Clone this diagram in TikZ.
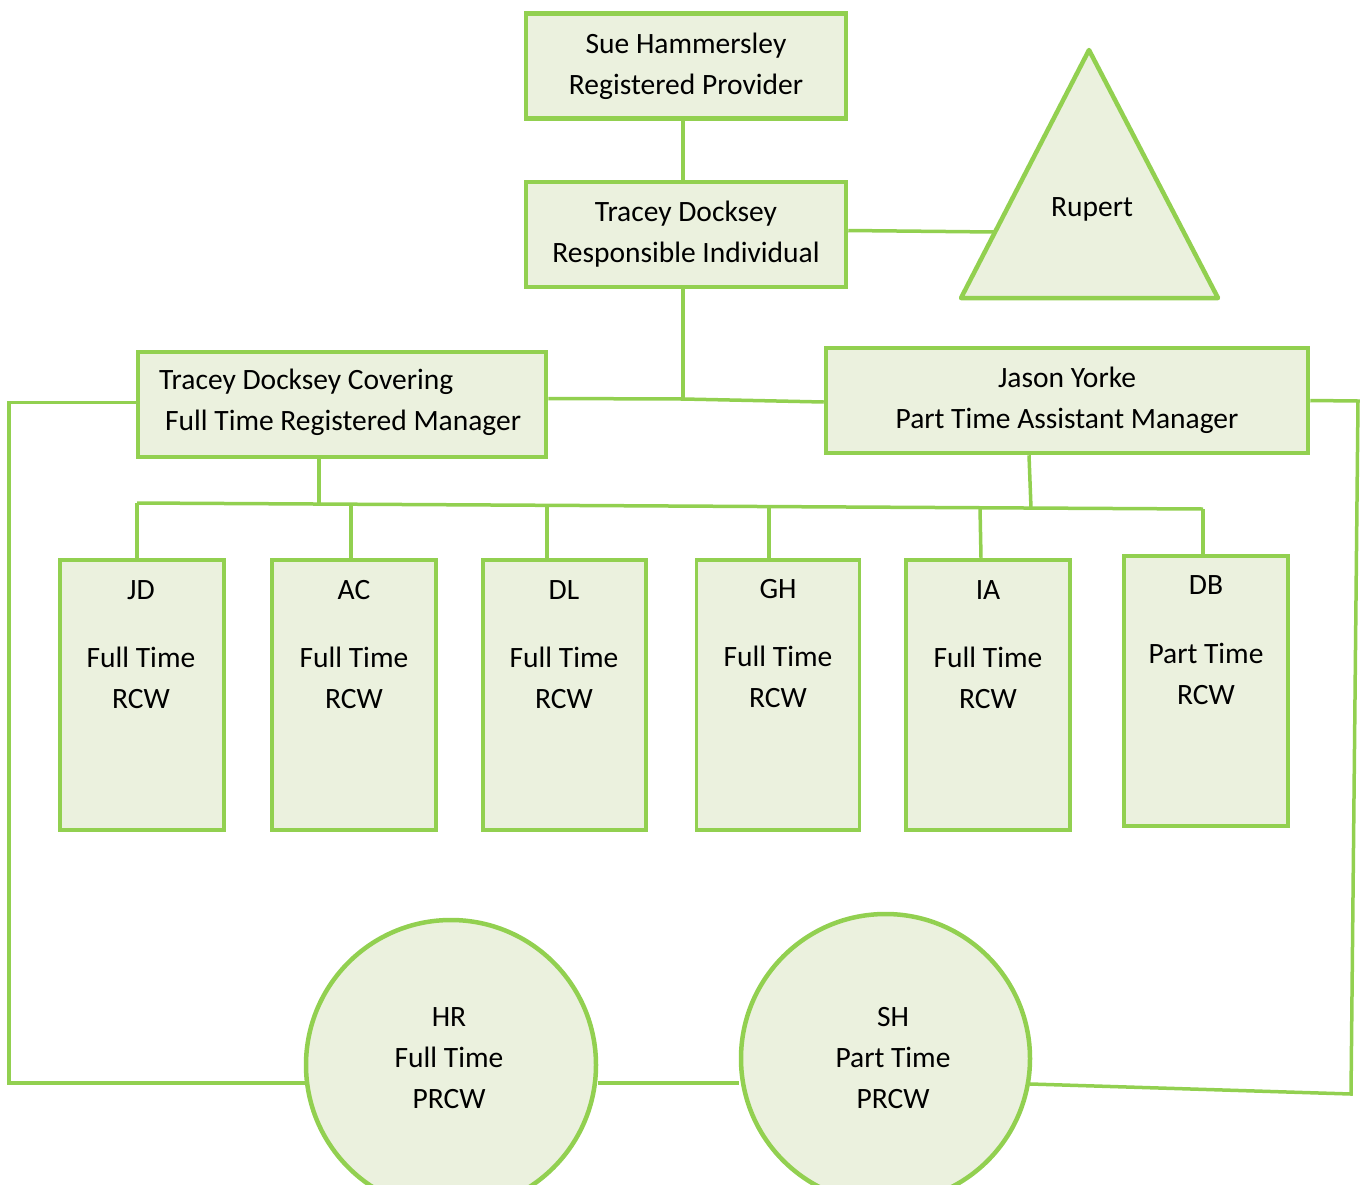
\documentclass[tikz,border=0pt]{standalone}
\usepackage{fontspec}
\setmainfont{Carlito}
\definecolor{lg}{HTML}{92D050}
\definecolor{lf}{HTML}{EBF1DE}
\newcommand\txtf{\fontsize{29.5}{41}\selectfont}
\tikzset{
  box/.style={draw=lg, fill=lf, line width=4.5pt, rectangle, inner sep=0pt, align=center, font=\txtf, text=black},
  roundbox/.style={draw=lg, fill=lf, line width=4.5pt, circle, inner sep=0pt, minimum size=290pt},
  conn/.style={draw=lg, line width=3.5pt},
  txt/.style={align=center, inner sep=0pt, font=\txtf, text=black},
  tri/.style={draw=lg, fill=lf, line width=4.5pt, line join=round},
}
\begin{document}
\begin{tikzpicture}[x=1pt, y=-1pt]
\useasboundingbox (0,0) rectangle (1360,1184);
\clip (0,0) rectangle (1360,1184);

% junction / bus coordinates
\coordinate (j1) at (683,399);
\coordinate (busL) at (137,503);
\coordinate (busR) at (1203,509);
\coordinate (bTC) at (319,504);
\coordinate (bAC) at (351,504.2);
\coordinate (bDL) at (547,505.3);
\coordinate (bGH) at (769,506.6);
\coordinate (bIA) at (980,507.7);
\coordinate (bJY) at (1031,508);
\coordinate (rc1) at (1358,401);
\coordinate (rc2) at (1351,1094);
\coordinate (tl) at (995,232);

% top boxes
\node[box, minimum width=320pt, minimum height=105pt] (sue) at (686,66) {Sue Hammersley\\Registered Provider};
\node[box, minimum width=320pt, minimum height=105pt] (ri) at (686,234.5) {Tracey Docksey\\Responsible Individual};
\node[box, minimum width=408pt, minimum height=105pt] (tc) at (342,404.5) {};
\node[txt, anchor=west, align=left] (tct) at (159,402) {Tracey Docksey Covering\\\hspace*{6pt}Full Time Registered Manager};
\node[box, minimum width=482pt, minimum height=105pt] (jy) at (1067,400.5) {Jason Yorke\\Part Time Assistant Manager};

% triangle
\draw[tri] (1089,50) -- (1218,298) -- (961,298) -- cycle;
\node[txt] (rup) at (1092,209) {Rupert};

% worker boxes
\node[box, minimum width=164pt, minimum height=270pt] (jd) at (142,695) {};
\node[box, minimum width=164pt, minimum height=270pt] (ac) at (354,695) {};
\node[box, minimum width=163pt, minimum height=270pt] (dl) at (564.5,695) {};
\node[box, minimum width=163pt, minimum height=270pt, line width=3.5pt] (gh) at (778,695) {};
\node[box, minimum width=164pt, minimum height=270pt] (ia) at (988,695) {};
\node[box, minimum width=164pt, minimum height=270pt] (db) at (1206,691) {};

\node[txt] (jdn) at (141,590) {JD};
\node[txt] (jdr) at (141,678) {Full Time\\RCW};
\node[txt] (acn) at (354,590) {AC};
\node[txt] (acr) at (354,678) {Full Time\\RCW};
\node[txt] (dln) at (564,590) {DL};
\node[txt] (dlr) at (564,678) {Full Time\\RCW};
\node[txt] (ghn) at (778,589) {GH};
\node[txt] (ghr) at (778,677) {Full Time\\RCW};
\node[txt] (ian) at (988,590) {IA};
\node[txt] (iar) at (988,678) {Full Time\\RCW};
\node[txt] (dbn) at (1206,585) {DB};
\node[txt] (dbr) at (1206,674) {Part Time\\RCW};

% circles
\node[roundbox] (hr) at (451,1065) {};
\node[txt] (hrt) at (449,1058) {HR\\Full Time\\PRCW};
\node[roundbox, minimum size=289pt] (sh) at (885.5,1058.5) {};
\node[txt] (sht) at (893,1058) {SH\\Part Time\\PRCW};

% connectors
\draw[conn] ([xshift=-3pt]sue.south) -- ([xshift=-3pt]ri.north);
\draw[conn] ([yshift=4pt]ri.east) -- (tl);
\draw[conn] ([xshift=-3pt]ri.south) -- (j1);
\draw[conn] ([yshift=6pt]tc.east) -- (j1) -- ([yshift=-1.5pt]jy.west);
\draw[conn] (bTC |- tc.south) -- (bTC);
\draw[conn] (busL) -- (busR);
\draw[conn] (busL) -- (busL |- jd.north);
\draw[conn] (bAC) -- (bAC |- ac.north);
\draw[conn] (bDL) -- (bDL |- dl.north);
\draw[conn] (bGH) -- (bGH |- gh.north);
\draw[conn] (bIA) -- ([xshift=1pt]bIA |- ia.north);
\draw[conn] (busR) -- (busR |- db.north);
\draw[conn] ([xshift=-2pt]bJY |- jy.south) -- (bJY);
\draw[conn] ([yshift=2pt]tc.west) -- ++(-127,0) |- (hr.187);
\draw[conn] (hr.187 -| hr.east) -- (hr.187 -| sh.west);
\draw[conn] (sh.-10) -- (rc2) -- (rc1) -- (jy.east);
\end{tikzpicture}
\end{document}
